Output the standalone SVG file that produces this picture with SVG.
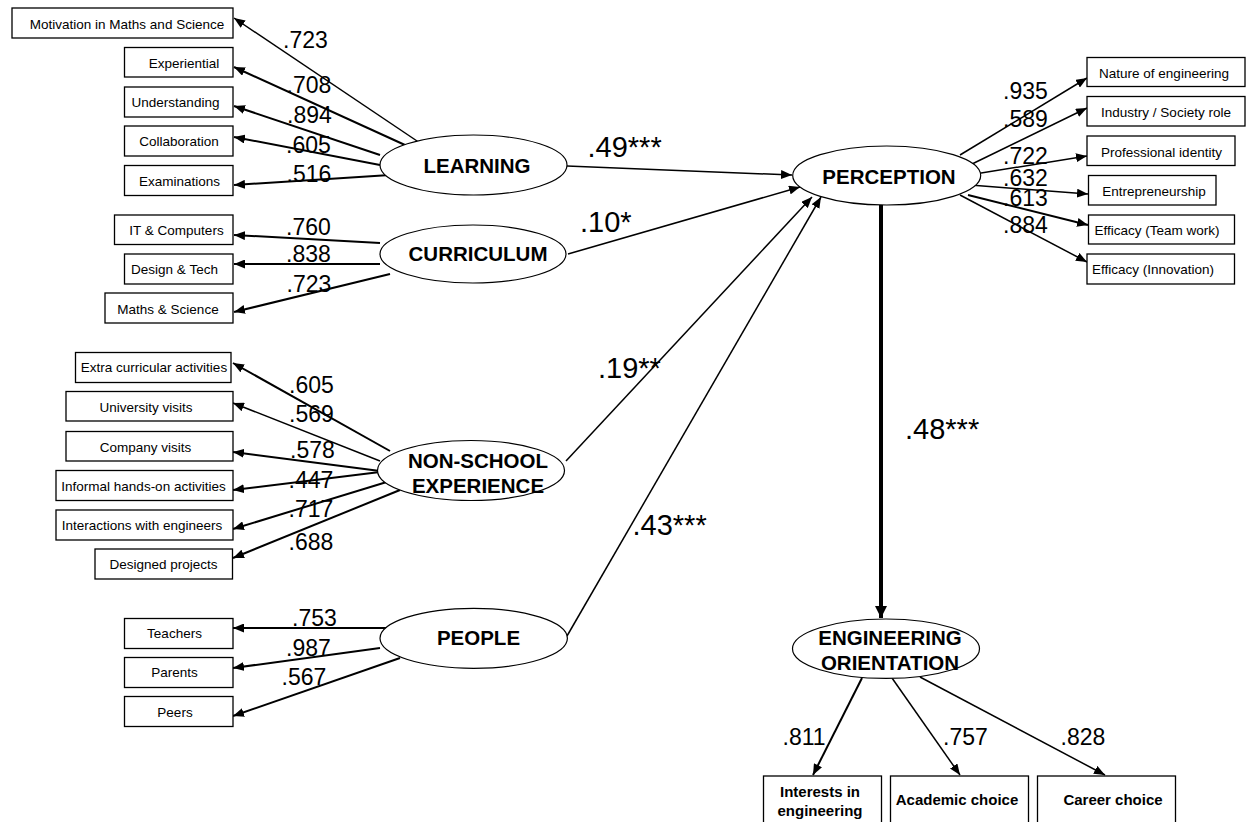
<svg xmlns="http://www.w3.org/2000/svg" width="1248" height="822" viewBox="0 0 1248 822">
<style>
.box{fill:#fff;stroke:#000;stroke-width:1.3}
.lat{fill:#fff;stroke:#000;stroke-width:1.2}
.bt{font-family:"Liberation Sans",Arial,sans-serif;font-size:13.5px;fill:#000;text-anchor:middle}
.bb{font-family:"Liberation Sans",Arial,sans-serif;font-size:15px;font-weight:bold;fill:#000;text-anchor:middle}
.lt{font-family:"Liberation Sans",Arial,sans-serif;font-size:20.5px;font-weight:bold;fill:#000;text-anchor:middle}
.ld{font-family:"Liberation Sans",Arial,sans-serif;font-size:23px;fill:#000}
.pt{font-family:"Liberation Sans",Arial,sans-serif;font-size:29px;fill:#000}
.c{stroke:#000;fill:none;stroke-width:1.5;marker-end:url(#ah)}
.m{stroke-width:2}
.t{stroke-width:4;marker-end:url(#ahb)}
</style>
<defs>
<marker id="ah" viewBox="0 0 11 9" refX="11" refY="4.5" markerWidth="11" markerHeight="9" orient="auto" markerUnits="userSpaceOnUse"><path d="M0,0 L11,4.5 L0,9 z" fill="#000"/></marker>
<marker id="ahb" viewBox="0 0 12 12" refX="12" refY="6" markerWidth="12" markerHeight="12" orient="auto" markerUnits="userSpaceOnUse"><path d="M0,0 L12,6 L0,12 z" fill="#000"/></marker>
</defs>
<rect width="1248" height="822" fill="#fff"/>

<g id="connectors">
<line class="c" x1="420" y1="143" x2="234" y2="18"/>
<line class="c m" x1="405" y1="145" x2="234" y2="67"/>
<line class="c m" x1="380" y1="155" x2="234" y2="106"/>
<line class="c m" x1="380" y1="165" x2="234" y2="137"/>
<line class="c m" x1="390" y1="175" x2="234" y2="185"/>
<line class="c m" x1="380" y1="243" x2="234" y2="235"/>
<line class="c m" x1="380" y1="264" x2="234" y2="264"/>
<line class="c m" x1="390" y1="274" x2="234" y2="312"/>
<line class="c m" x1="390" y1="451" x2="233" y2="363"/>
<line class="c" x1="380" y1="461" x2="233" y2="403"/>
<line class="c m" x1="380" y1="471" x2="233" y2="452"/>
<line class="c m" x1="380" y1="472" x2="233" y2="490"/>
<line class="c m" x1="390" y1="481" x2="233" y2="529"/>
<line class="c m" x1="400" y1="490" x2="233" y2="558"/>
<line class="c m" x1="390" y1="628" x2="233" y2="628"/>
<line class="c m" x1="380" y1="648" x2="233" y2="668"/>
<line class="c m" x1="400" y1="658" x2="233" y2="716"/>
<line class="c" x1="567" y1="166" x2="792" y2="175"/>
<line class="c" x1="568" y1="254" x2="800" y2="187"/>
<line class="c" x1="566" y1="461" x2="812" y2="197"/>
<line class="c" x1="567" y1="636" x2="821" y2="197"/>
<line class="c t" x1="881" y1="205" x2="881" y2="618"/>
<line class="c" x1="960" y1="155" x2="1087" y2="78"/>
<line class="c" x1="970" y1="165" x2="1087" y2="108"/>
<line class="c" x1="975" y1="174" x2="1087" y2="156"/>
<line class="c" x1="970" y1="185" x2="1088" y2="194"/>
<line class="c m" x1="968" y1="195" x2="1088" y2="225"/>
<line class="c" x1="960" y1="195" x2="1087" y2="262"/>
<line class="c m" x1="862" y1="678" x2="813" y2="775"/>
<line class="c" x1="892" y1="678" x2="960" y2="775"/>
<line class="c" x1="920" y1="677" x2="1105" y2="775"/>
</g>

<g id="loadings">
<text class="ld" x="283" y="48">.723</text>
<text class="ld" x="286.5" y="93">.708</text>
<text class="ld" x="287" y="123">.894</text>
<text class="ld" x="286" y="153">.605</text>
<text class="ld" x="286.5" y="182">.516</text>
<text class="ld" x="286" y="235">.760</text>
<text class="ld" x="286" y="262">.838</text>
<text class="ld" x="286.5" y="292">.723</text>
<text class="ld" x="289" y="393">.605</text>
<text class="ld" x="289" y="422">.569</text>
<text class="ld" x="290" y="458">.578</text>
<text class="ld" x="288.5" y="488">.447</text>
<text class="ld" x="288.5" y="517">.717</text>
<text class="ld" x="288.5" y="550">.688</text>
<text class="ld" x="292" y="626">.753</text>
<text class="ld" x="286" y="656">.987</text>
<text class="ld" x="281.5" y="685">.567</text>
<text class="ld" x="1003" y="99">.935</text>
<text class="ld" x="1003" y="127">.589</text>
<text class="ld" x="1003" y="164">.722</text>
<text class="ld" x="1003" y="186">.632</text>
<text class="ld" x="1003" y="206">.613</text>
<text class="ld" x="1003" y="233">.884</text>
<text class="ld" x="782.5" y="745">.811</text>
<text class="ld" x="943" y="745">.757</text>
<text class="ld" x="1060.5" y="745">.828</text>
<text class="pt" x="587.5" y="157">.49***</text>
<text class="pt" x="580" y="232">.10*</text>
<text class="pt" x="598" y="378">.19**</text>
<text class="pt" x="632.5" y="535">.43***</text>
<text class="pt" x="905" y="439">.48***</text>
</g>

<g id="n-motivation"><rect class="box" x="12" y="8" width="221" height="30"/><text class="bt" x="127" y="29">Motivation in Maths and Science</text></g>
<g id="n-experiential"><rect class="box" x="124.5" y="47.5" width="108.5" height="29.5"/><text class="bt" x="184" y="67.5">Experiential</text></g>
<g id="n-understanding"><rect class="box" x="124.5" y="87" width="108.5" height="30"/><text class="bt" x="175.5" y="106.5">Understanding</text></g>
<g id="n-collaboration"><rect class="box" x="124.5" y="126" width="108.5" height="30"/><text class="bt" x="179" y="145.5">Collaboration</text></g>
<g id="n-examinations"><rect class="box" x="124.5" y="165.5" width="108.5" height="30"/><text class="bt" x="179.5" y="185.5">Examinations</text></g>
<g id="n-it"><rect class="box" x="114.5" y="215" width="118.5" height="29.5"/><text class="bt" x="176.5" y="235">IT &amp; Computers</text></g>
<g id="n-design"><rect class="box" x="124.5" y="254" width="108.5" height="30"/><text class="bt" x="174.5" y="274">Design &amp; Tech</text></g>
<g id="n-maths"><rect class="box" x="105" y="293" width="128" height="30"/><text class="bt" x="168" y="314">Maths &amp; Science</text></g>
<g id="n-extra"><rect class="box" x="75.5" y="352.5" width="155.5" height="30"/><text class="bt" x="154" y="371.5">Extra curricular activities</text></g>
<g id="n-university"><rect class="box" x="66" y="391.5" width="167" height="29.5"/><text class="bt" x="146" y="411.5">University visits</text></g>
<g id="n-company"><rect class="box" x="66" y="431.5" width="167" height="29.5"/><text class="bt" x="145.5" y="451.5">Company visits</text></g>
<g id="n-informal"><rect class="box" x="56" y="470.5" width="177" height="30"/><text class="bt" x="143.5" y="490.5">Informal hands-on activities</text></g>
<g id="n-interactions"><rect class="box" x="56" y="510" width="177" height="30"/><text class="bt" x="142" y="530">Interactions with engineers</text></g>
<g id="n-designed"><rect class="box" x="95" y="549" width="137.5" height="30"/><text class="bt" x="163.5" y="568.5">Designed projects</text></g>
<g id="n-teachers"><rect class="box" x="124.5" y="618.5" width="108.5" height="30"/><text class="bt" x="174.5" y="637.5">Teachers</text></g>
<g id="n-parents"><rect class="box" x="124.5" y="657.5" width="108.5" height="30"/><text class="bt" x="174.5" y="676.5">Parents</text></g>
<g id="n-peers"><rect class="box" x="124.5" y="696.5" width="108.5" height="30"/><text class="bt" x="175" y="716.5">Peers</text></g>

<g id="n-nature"><rect class="box" x="1087" y="57.5" width="158" height="29"/><text class="bt" x="1164" y="77.5">Nature of engineering</text></g>
<g id="n-industry"><rect class="box" x="1087" y="96.5" width="158" height="29.5"/><text class="bt" x="1166" y="116.5">Industry / Society role</text></g>
<g id="n-professional"><rect class="box" x="1087" y="136" width="148" height="29.5"/><text class="bt" x="1161.5" y="156.5">Professional identity</text></g>
<g id="n-entre"><rect class="box" x="1088.5" y="175.5" width="127.5" height="29.5"/><text class="bt" x="1154" y="195.5">Entrepreneurship</text></g>
<g id="n-team"><rect class="box" x="1088.5" y="215" width="146" height="29"/><text class="bt" x="1157" y="234.5">Efficacy (Team work)</text></g>
<g id="n-innov"><rect class="box" x="1087" y="254" width="147.5" height="30"/><text class="bt" x="1153" y="274">Efficacy (Innovation)</text></g>

<g id="n-interests"><rect class="box" x="763.5" y="776" width="118" height="50"/><text class="bb" x="820" y="797">Interests in</text><text class="bb" x="820" y="816">engineering</text></g>
<g id="n-academic"><rect class="box" x="890.5" y="776" width="138" height="50"/><text class="bb" x="957" y="805">Academic choice</text></g>
<g id="n-career"><rect class="box" x="1037.5" y="776" width="138" height="50"/><text class="bb" x="1113" y="805">Career choice</text></g>

<g id="n-learning"><ellipse class="lat" cx="473.5" cy="165" rx="93.5" ry="30"/><text class="lt" x="477" y="172.5">LEARNING</text></g>
<g id="n-curriculum"><ellipse class="lat" cx="473" cy="254" rx="93" ry="29"/><text class="lt" x="478" y="261">CURRICULUM</text></g>
<g id="n-nonschool"><ellipse class="lat" cx="471" cy="470.5" rx="93.5" ry="30"/><text class="lt" x="478" y="468">NON-SCHOOL</text><text class="lt" x="478" y="493">EXPERIENCE</text></g>
<g id="n-people"><ellipse class="lat" cx="473.7" cy="638.3" rx="93.7" ry="30"/><text class="lt" x="478.5" y="644.5">PEOPLE</text></g>
<g id="n-perception"><ellipse class="lat" cx="886.7" cy="175.5" rx="94" ry="29.5"/><text class="lt" x="889" y="184">PERCEPTION</text></g>
<g id="n-engorient"><ellipse class="lat" cx="886" cy="648.7" rx="93.5" ry="29.7"/><text class="lt" x="890" y="645">ENGINEERING</text><text class="lt" x="890" y="670">ORIENTATION</text></g>
</svg>
